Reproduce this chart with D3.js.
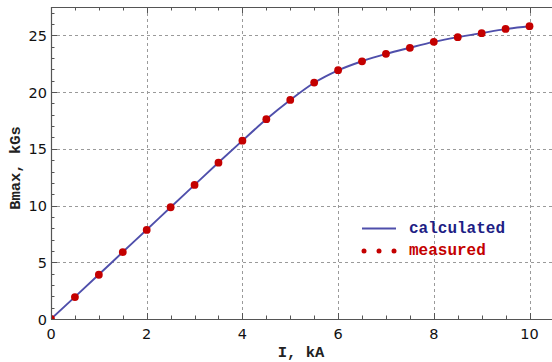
<!DOCTYPE html>
<html><head><meta charset="utf-8">
<script src="https://cdn.jsdelivr.net/npm/d3@7/dist/d3.min.js"></script>
<style>body{margin:0;background:#fff}svg{display:block}</style>
</head><body><svg id="c" width="552" height="362"></svg>
<script>
const currentKA = [0,0.5,1,1.5,2,2.5,3,3.5,4,4.5,5,5.5,6,6.5,7,7.5,8,8.5,9,9.5,10];
const measured  = [0,1.93,3.9,5.9,7.85,9.85,11.82,13.78,15.72,17.61,19.31,20.84,21.93,22.71,23.37,23.9,24.43,24.84,25.19,25.57,25.81];
const calculated= [0,1.95,3.92,5.9,7.87,9.85,11.82,13.79,15.72,17.6,19.3,20.82,21.92,22.72,23.37,23.91,24.42,24.84,25.2,25.55,25.8];
const xTicks = [0,2,4,6,8,10];
const yTicks = [0,5,10,15,20,25];
const legendLabels = ["calculated","measured"];

const svg = d3.select("#c");
const L=51, R=552, T=7, B=319;
const x = d3.scaleLinear().domain([0,10.47]).range([L,R]);
const y = d3.scaleLinear().domain([0,27.5]).range([B,T]);

svg.append("defs").append("clipPath").attr("id","clip").append("rect")
  .attr("x",L).attr("y",T).attr("width",R-L).attr("height",B-T);

const grid = svg.append("g").attr("stroke","#9a9a9a").attr("stroke-dasharray","3,3").attr("stroke-width",1);
xTicks.filter(d=>d>0).forEach(d=>grid.append("line").attr("x1",Math.round(x(d))+0.5).attr("x2",Math.round(x(d))+0.5).attr("y1",T).attr("y2",B));
yTicks.filter(d=>d>0).forEach(d=>grid.append("line").attr("y1",Math.round(y(d))+0.5).attr("y2",Math.round(y(d))+0.5).attr("x1",L).attr("x2",R));

const plot = svg.append("g").attr("clip-path","url(#clip)");
const line = d3.line().x((d,i)=>x(currentKA[i])).y(d=>y(d)).curve(d3.curveMonotoneX);
plot.append("path").datum(calculated).attr("d",line).attr("fill","none").attr("stroke","#4f4fab").attr("stroke-width",1.9);

plot.append("g").selectAll("circle").data(measured).join("circle")
  .attr("cx",(d,i)=>x(currentKA[i])).attr("cy",d=>y(d)).attr("r",3.9).attr("fill","#c40000");

// axes
const ax = svg.append("g").attr("stroke","#555").attr("stroke-width",1.2);
ax.append("line").attr("x1",L).attr("x2",R).attr("y1",B+0.5).attr("y2",B+0.5);
ax.append("line").attr("x1",L).attr("x2",R).attr("y1",T+0.5).attr("y2",T+0.5);
ax.append("line").attr("x1",L+0.5).attr("x2",L+0.5).attr("y1",T).attr("y2",B);
const xMinor = d3.range(0,10.5,0.5);
xMinor.forEach(d=>{
  const len = (d%2===0)?6:3.5;
  const px = Math.round(x(d))+0.5;
  ax.append("line").attr("x1",px).attr("x2",px).attr("y1",B).attr("y2",B-len).attr("stroke-width",1);
  ax.append("line").attr("x1",px).attr("x2",px).attr("y1",T).attr("y2",T+len).attr("stroke-width",1);
});
d3.range(0,28,1).forEach(d=>{
  const len = (d%5===0)?6:3.5;
  const py = Math.round(y(d))+0.5;
  ax.append("line").attr("x1",L).attr("x2",L+len).attr("y1",py).attr("y2",py).attr("stroke-width",1);
});

const tf = "DejaVu Sans, sans-serif";
svg.append("g").selectAll("text").data(xTicks).join("text")
  .attr("x",d=>x(d)).attr("y",B+20).attr("text-anchor","middle")
  .attr("font-family",tf).attr("font-size",14.5).attr("fill","#111").text(d=>d);
svg.append("g").selectAll("text").data(yTicks).join("text")
  .attr("x",L-4).attr("y",d=>y(d)+5.5).attr("text-anchor","end")
  .attr("font-family",tf).attr("font-size",14.5).attr("fill","#111").text(d=>d);

const mf = "Courier New, Liberation Mono, monospace";
svg.append("text").attr("x",301).attr("y",357).attr("text-anchor","middle")
  .attr("font-family",mf).attr("font-weight","bold").attr("font-size",15.5).attr("fill","#222").text("I, kA");
svg.append("text").attr("transform","translate(20,168) rotate(-90)").attr("text-anchor","middle")
  .attr("font-family",mf).attr("font-weight","bold").attr("font-size",15.5).attr("fill","#222").text("Bmax, kGs");

// legend
const lg = svg.append("g");
lg.append("line").attr("x1",362).attr("x2",396).attr("y1",228.5).attr("y2",228.5).attr("stroke","#4f4fab").attr("stroke-width",1.9);
lg.append("text").attr("x",409).attr("y",233).attr("font-family",mf).attr("font-weight","bold").attr("font-size",16).attr("fill","#1e1e85").text(legendLabels[0]);
[364,379,394].forEach(cx=>lg.append("circle").attr("cx",cx).attr("cy",251).attr("r",2.5).attr("fill","#c40000"));
lg.append("text").attr("x",409).attr("y",255).attr("font-family",mf).attr("font-weight","bold").attr("font-size",16).attr("fill","#c40000").text(legendLabels[1]);
</script></body></html>
